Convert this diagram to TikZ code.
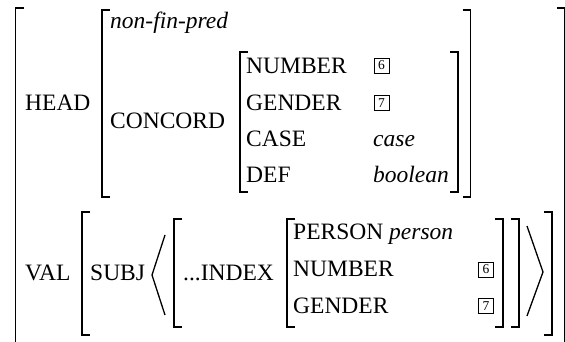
\documentclass[tikz,border=0pt]{standalone}
\usepackage{fontspec}
\setmainfont{Liberation Serif}
\begin{document}
\begin{tikzpicture}[x=1pt,y=-1pt,
  lbl/.style={anchor=base west,inner sep=0pt,font=\fontsize{23.5}{28}\selectfont},
  val/.style={lbl,font=\fontsize{23.5}{28}\selectfont\itshape},
  tag/.style={draw,line width=0.6pt,minimum width=15pt,minimum height=15pt,inner sep=0pt,font=\fontsize{13.5}{14}\selectfont},
  brk/.style={line width=1.6pt,line cap=butt,line join=miter},
  ang/.style={line width=1.3pt,line join=miter}]
\useasboundingbox (0,0) rectangle (565,341);
\begin{scope}
\clip (0,0) rectangle (565,341);
% outer brackets
\draw[brk] (23.5,8) -- (15.5,8) -- (15.5,345) -- (23.5,345);
\draw[brk] (557,8) -- (564.5,8) -- (564.5,345) -- (557,345);
\end{scope}
% HEAD value
\draw[brk] (110,10) -- (102,10) -- (102,197) -- (110,197);
\draw[brk] (462.5,10) -- (470.5,10) -- (470.5,197) -- (462.5,197);
% CONCORD value
\draw[brk] (248,52) -- (240,52) -- (240,192) -- (248,192);
\draw[brk] (450,52) -- (458,52) -- (458,192) -- (450,192);
% VAL value
\draw[brk] (90,212) -- (82,212) -- (82,335) -- (90,335);
\draw[brk] (544,212) -- (552,212) -- (552,335) -- (544,335);
% SUBJ element
\draw[brk] (182,219) -- (174,219) -- (174,327) -- (182,327);
\draw[brk] (511,219) -- (519,219) -- (519,327) -- (511,327);
% INDEX value
\draw[brk] (295,219) -- (287,219) -- (287,327) -- (295,327);
\draw[brk] (495,219) -- (503,219) -- (503,327) -- (495,327);
% angle brackets
\draw[ang] (165,235) -- (152,275) -- (165,315);
\draw[ang] (527,226) -- (543,272) -- (527,316);
% texts
\node[lbl] (head) at (25,110) {HEAD};
\node[val] (nfp) at (110,28.5) {non-fin-pred};
\node[lbl] (concord) at (110,128) {CONCORD};
\node[lbl] (num1) at (246,73) {NUMBER};
\node[lbl] (gen1) at (246,110) {GENDER};
\node[lbl] (case1) at (246,146) {CASE};
\node[lbl] (def1) at (246,182) {DEF};
\node[tag] (t6a) at (381.5,65.5) {6};
\node[tag] (t7a) at (381.5,103) {7};
\node[val] (casev) at (373,146) {case};
\node[val] (boolv) at (373,182) {boolean};
\node[lbl] (valk) at (25,280) {VAL};
\node[lbl] (subj) at (90,280) {SUBJ};
\node[lbl] (index) at (183,280) {...INDEX};
\node[lbl] (pers) at (293,239) {PERSON};
\node[val] (persv) at (389,239) {person};
\node[lbl] (num2) at (293,276) {NUMBER};
\node[lbl] (gen2) at (293,313) {GENDER};
\node[tag] (t6b) at (486,269.5) {6};
\node[tag] (t7b) at (486,306) {7};
\end{tikzpicture}
\end{document}
